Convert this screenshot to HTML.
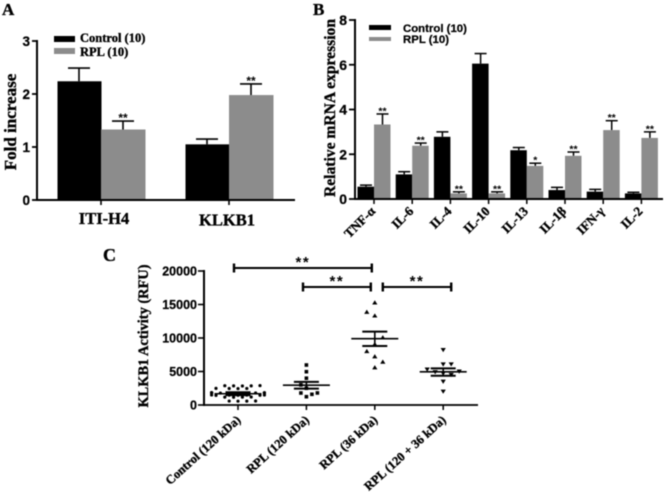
<!DOCTYPE html>
<html lang="en">
<head>
<meta charset="utf-8">
<title>Panels A, B and C</title>
<style>
html,body{margin:0;padding:0;background:#fff;width:664px;height:492px;overflow:hidden}
svg{display:block;filter:blur(0.4px)}
.serif{font-family:"Liberation Serif",serif;font-weight:bold;fill:#000;stroke:#000;stroke-width:.35px}
.sans{font-family:"Liberation Sans",sans-serif;font-weight:bold;fill:#000;stroke:#000;stroke-width:.25px}
.star{stroke-width:0}
</style>
</head>
<body>
<svg id="chart" xmlns="http://www.w3.org/2000/svg" width="664" height="492" viewBox="0 0 664 492"></svg>
<script>
// Panel A data
const aCategories = ['ITI-H4', 'KLKB1'];
const aControl = [2.24, 1.05];
const aControlTop = [2.49, 1.15];
const aRpl = [1.33, 1.98];
const aRplTop = [1.49, 2.19];
const aTicks = [0, 1, 2, 3];
const aLegend = ['Control (10)', 'RPL (10)'];

// Panel B data
const bCategories = ['TNF-\u03B1', 'IL-6', 'IL-4', 'IL-10', 'IL-13', 'IL-1\u03B2', 'IFN-\u03B3', 'IL-2'];
const bControl = [0.55, 1.10, 2.78, 6.05, 2.18, 0.40, 0.33, 0.25];
const bControlTop = [0.62, 1.22, 3.00, 6.50, 2.30, 0.52, 0.43, 0.30];
const bRpl = [3.33, 2.38, 0.25, 0.25, 1.48, 1.93, 3.08, 2.73];
const bRplTop = [3.80, 2.50, 0.32, 0.32, 1.60, 2.10, 3.50, 3.00];
const bStars = ['**', '**', '**', '**', '*', '**', '**', '**'];
const bTicks = [0, 2, 4, 6, 8];
const bLegend = ['Control (10)', 'RPL (10)'];

// Panel C data
const cCategories = ['Control (120 kDa)', 'RPL (120 kDa)', 'RPL (36 kDa)', 'RPL (120 + 36 kDa)'];
const cTicks = [0, 5000, 10000, 15000, 20000];
const cControlPoints = [2900, 2880, 2860, 2850, 2840, 2480, 2470, 2460, 2450, 1850, 1840, 1830, 1820, 1810, 1800, 1790, 1780, 1500, 1490, 1480, 1470, 1460, 1450, 1440, 1190, 1180, 1170, 1160, 600, 590, 580, 570];
const cRpl120Points = [5970, 4970, 4000, 3000, 2500, 1800, 1790, 1600, 1240];
const cRpl36Points = [15300, 13900, 13350, 10100, 9100, 8050, 7260, 6460, 5620];
const cRplBothPoints = [8200, 6070, 6060, 5300, 5000, 4900, 4700, 4500, 3480, 2000];
const cMeans = [1680, 2950, 9900, 4950];
const cSemHigh = [1900, 3450, 10950, 5470];
const cSemLow = [1480, 2450, 8800, 4370];
const cSignificance = [[0, 2], [1, 2], [2, 3]];

const NS = 'http://www.w3.org/2000/svg';
const root = document.getElementById('chart');

function add(tag, attrs, name, text, parent) {
  const node = document.createElementNS(NS, tag);
  for (const k in attrs) node.setAttribute(k, attrs[k]);
  
  
  if (text !== undefined) node.textContent = text;
  (parent || root).appendChild(node);
  return node;
}
function line(x1, y1, x2, y2, w, name, parent) {
  return add('line', {x1: x1, y1: y1, x2: x2, y2: y2, stroke: '#000', 'stroke-width': w}, name, undefined, parent);
}
function bar(x, w, yTop, yBase, fill, name) {
  return add('rect', {x: x, y: yTop, width: w, height: yBase - yTop, fill: fill}, name);
}
function label(x, y, str, cls, size, anchor, name, extra) {
  const attrs = Object.assign({x: x, y: y, class: cls, 'font-size': size, 'text-anchor': anchor || 'start'}, extra || {});
  return add('text', attrs, name, str);
}

const BLACK = '#000000';
const GREY = '#8c8c8c';

/* ---------- Panel A ---------- */
const aY = v => 200 - (v / 3) * 159;
const aX = i => 101 + i * 128;
const aLabelShift = [3, -2];
label(2, 15, 'A', 'serif', 17, 'start', 'panel-a-label');
label(0, 0, 'Fold increase', 'serif', 17, 'middle', 'panel-a-y-axis-title', {transform: 'translate(16,122) rotate(-90)'});
aCategories.forEach((c, i) => {
  const x = aX(i);
  line(x - 22, aY(aControlTop[i]), x - 22, aY(aControl[i]), 1.6, 'panel-a-control-error-' + c);
  line(x - 33, aY(aControlTop[i]), x - 11, aY(aControlTop[i]), 1.6, 'panel-a-control-error-cap-' + c);
  line(x + 22, aY(aRplTop[i]), x + 22, aY(aRpl[i]), 1.6, 'panel-a-rpl-error-' + c);
  line(x + 11, aY(aRplTop[i]), x + 33, aY(aRplTop[i]), 1.6, 'panel-a-rpl-error-cap-' + c);
  bar(x - 43.5, 44, aY(aControl[i]), 200, BLACK, 'panel-a-control-bar-' + c);
  bar(x, 44.5, aY(aRpl[i]), 200, GREY, 'panel-a-rpl-bar-' + c);
  label(x + 22, aY(aRplTop[i]) + 1, '**', 'sans star', 12, 'middle', 'panel-a-significance-' + c);
  line(x, 200, x, 205, 1.6, 'panel-a-x-tick-' + c);
  label(x + aLabelShift[i], 224 + i * 1.5, c, 'serif', 16.5, 'middle', 'panel-a-x-label-' + c);
});
line(37, 40, 37, 201, 2, 'panel-a-y-axis');
line(36, 200, 295, 200, 2, 'panel-a-x-axis');
aTicks.forEach(t => {
  line(32, aY(t), 37, aY(t), 1.8, 'panel-a-y-tick-' + t);
  label(30, aY(t) + 5, String(t), 'sans', 13.5, 'end', 'panel-a-y-label-' + t);
});
bar(54, 21, 36, 42, BLACK, 'panel-a-legend-control-swatch');
bar(54, 21, 48, 54, GREY, 'panel-a-legend-rpl-swatch');
label(80, 42, aLegend[0], 'serif', 12.5, 'start', 'panel-a-legend-control');
label(80, 56, aLegend[1], 'serif', 12.5, 'start', 'panel-a-legend-rpl');

/* ---------- Panel B ---------- */
const bY = v => 199 - (v / 8) * 179;
const bX = i => 374 + i * 38.2;
label(313, 15, 'B', 'serif', 17, 'start', 'panel-b-label');
label(0, 0, 'Relative mRNA expression', 'serif', 16, 'middle', 'panel-b-y-axis-title', {transform: 'translate(335,108) rotate(-90)', textLength: 178, lengthAdjust: 'spacingAndGlyphs'});
bCategories.forEach((c, i) => {
  const x = bX(i);
  line(x - 8, bY(bControlTop[i]), x - 8, bY(bControl[i]), 1.5, 'panel-b-control-error-' + c);
  line(x - 14, bY(bControlTop[i]), x - 2, bY(bControlTop[i]), 1.5, 'panel-b-control-error-cap-' + c);
  line(x + 8.5, bY(bRplTop[i]), x + 8.5, bY(bRpl[i]), 1.5, 'panel-b-rpl-error-' + c);
  line(x + 2.5, bY(bRplTop[i]), x + 14.5, bY(bRplTop[i]), 1.5, 'panel-b-rpl-error-cap-' + c);
  bar(x - 16.5, 16.5, bY(bControl[i]), 199, BLACK, 'panel-b-control-bar-' + c);
  bar(x, 16.5, bY(bRpl[i]), 199, GREY, 'panel-b-rpl-bar-' + c);
  label(x + 8.5, bY(bRplTop[i]) + 0.5, bStars[i], 'sans star', 10.5, 'middle', 'panel-b-significance-' + c);
  line(x, 199, x, 204, 1.5, 'panel-b-x-tick-' + c);
  label(0, 0, c, 'serif', 13, 'end', 'panel-b-x-label-' + c, {transform: 'translate(' + (x + 2) + ',212) rotate(-45)'});
});
line(355, 19, 355, 200, 2, 'panel-b-y-axis');
line(354, 199, 663, 199, 2, 'panel-b-x-axis');
bTicks.forEach(t => {
  line(349, bY(t), 355, bY(t), 1.8, 'panel-b-y-tick-' + t);
  label(347, bY(t) + 5, String(t), 'sans', 14, 'end', 'panel-b-y-label-' + t);
});
bar(369, 22, 25, 30, BLACK, 'panel-b-legend-control-swatch');
bar(369, 22, 37, 41, GREY, 'panel-b-legend-rpl-swatch');
label(403, 32, bLegend[0], 'sans', 11.4, 'start', 'panel-b-legend-control');
label(403, 43, bLegend[1], 'sans', 11.4, 'start', 'panel-b-legend-rpl');

/* ---------- Panel C ---------- */
const cY = v => 405 - (v / 20000) * 134;
const cX = i => 238 + i * 68.4;
label(103, 261, 'C', 'serif', 18, 'start', 'panel-c-label');
label(0, 0, 'KLKB1 Activity (RFU)', 'serif', 14.5, 'middle', 'panel-c-y-axis-title', {transform: 'translate(148,336) rotate(-90)', textLength: 143, lengthAdjust: 'spacingAndGlyphs'});

// Beeswarm: lowest value first, each point takes the nearest free slot beside the centre line.
function swarm(values, minDist, step) {
  const placed = [];
  let side = 1;
  values.slice().sort((a, b) => a - b).forEach(v => {
    const y = cY(v);
    const free = dx => placed.every(p => Math.hypot(p.dx - dx, cY(p.v) - y) >= minDist);
    let dx = 0;
    for (let k = 0; !free(dx) && k < 12; k++) {
      const n = Math.floor(k / 2) + 1;
      dx = (k % 2 === 0 ? side : -side) * n * step;
    }
    if (dx !== 0) side = -side;
    placed.push({v: v, dx: dx});
  });
  return placed;
}
function marker(kind, x, y, name) {
  if (kind === 'circle') return add('circle', {cx: x, cy: y, r: 1.6, fill: '#000'}, name);
  if (kind === 'square') return add('rect', {x: x - 1.8, y: y - 1.8, width: 3.6, height: 3.6, fill: '#000'}, name);
  const d = kind === 'up' ? 1 : -1;
  const pts = [x - 2.6, y + 2 * d, x + 2.6, y + 2 * d, x, y - 2.2 * d].join(' ');
  return add('polygon', {points: pts, fill: '#000'}, name);
}
const cGroups = [
  {values: cControlPoints, kind: 'circle', dist: 4.8, step: 4.4},
  {values: cRpl120Points, kind: 'square', dist: 5, step: 5.5},
  {values: cRpl36Points, kind: 'up', dist: 7.5, step: 8},
  {values: cRplBothPoints, kind: 'down', dist: 7, step: 8}
];
cGroups.forEach((g, i) => {
  swarm(g.values, g.dist, g.step).forEach((p, j) => {
    marker(g.kind, cX(i) + p.dx, cY(p.v), 'panel-c-point-' + i + '-' + j);
  });
  line(cX(i) - 23.5, cY(cMeans[i]), cX(i) + 23.5, cY(cMeans[i]), 1.6, 'panel-c-mean-' + i);
  line(cX(i), cY(cSemHigh[i]), cX(i), cY(cSemLow[i]), 1.6, 'panel-c-sem-' + i);
  line(cX(i) - 12.5, cY(cSemHigh[i]), cX(i) + 12.5, cY(cSemHigh[i]), 2, 'panel-c-sem-high-' + i);
  line(cX(i) - 12.5, cY(cSemLow[i]), cX(i) + 12.5, cY(cSemLow[i]), 2, 'panel-c-sem-low-' + i);
  line(cX(i), 405, cX(i), 410, 1.5, 'panel-c-x-tick-' + i);
  label(0, 0, cCategories[i], 'serif', 12.4, 'end', 'panel-c-x-label-' + i, {transform: 'translate(' + (cX(i) + 3.5) + ',421) rotate(-42)'});
});
line(204, 270, 204, 406, 2, 'panel-c-y-axis');
line(203, 405, 478, 405, 1.8, 'panel-c-x-axis');
cTicks.forEach(t => {
  line(198, cY(t), 204, cY(t), 1.6, 'panel-c-y-tick-' + t);
  label(197, cY(t) + 4.5, String(t), 'sans', 12.5, 'end', 'panel-c-y-label-' + t);
});
const cBracketLeft = [-4, -3.4, 8];
const cBracketRight = [-3, -4, 8];
cSignificance.forEach((pair, i) => {
  const y = i === 0 ? 268 : 287;
  const x1 = cX(pair[0]) + cBracketLeft[i];
  const x2 = cX(pair[1]) + cBracketRight[i];
  line(x1, y, x2, y, 2.1, 'panel-c-bracket-' + i);
  line(x1, y - 4.5, x1, y + 4.5, 2.4, 'panel-c-bracket-left-end-' + i);
  line(x2, y - 4.5, x2, y + 4.5, 2.4, 'panel-c-bracket-right-end-' + i);
  label((x1 + x2) / 2, y - 1, '**', 'sans star', 15, 'middle', 'panel-c-significance-' + i, {'letter-spacing': 1.5});
});
</script>
</body>
</html>
